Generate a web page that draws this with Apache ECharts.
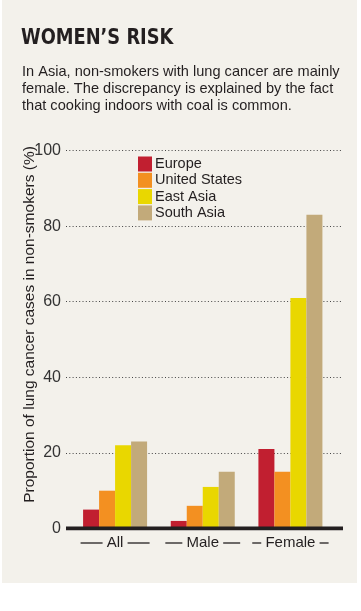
<!DOCTYPE html>
<html><head><meta charset="utf-8">
<script src="https://cdn.jsdelivr.net/npm/echarts@6/dist/echarts.min.js"></script>
<style>html,body{margin:0;padding:0;background:#fff}#c{width:361px;height:611px}</style>
</head><body><div id="c"></div>
<script>
const categories = ['All', 'Male', 'Female'];
const seriesNames = ['Europe', 'United States', 'East Asia', 'South Asia'];
const europe = [5, 2, 21];
const unitedStates = [10, 6, 15];
const eastAsia = [22, 11, 61];
const southAsia = [23, 15, 83];
const yTicks = [0, 20, 40, 60, 80, 100];
const title = 'WOMEN\u2019S RISK';
const subtitle = 'In Asia, non-smokers with lung cancer are mainly\nfemale. The discrepancy is explained by the fact\nthat cooking indoors with coal is common.';
const yName = 'Proportion of lung cancer cases in non-smokers (%)';

const colors = ['#c11f30', '#f39021', '#e9d700', '#c2aa7a'];
const ink = '#231f20';
const font = "'Liberation Sans', Arial, sans-serif";
const dashW = { All: 22, Male: 17, Female: 9 };
const values = [europe, unitedStates, eastAsia, southAsia];

const chart = echarts.init(document.getElementById('c'), null, { renderer: 'canvas' });
chart.setOption({
  backgroundColor: '#ffffff',
  animation: false,
  textStyle: { fontFamily: font },
  graphic: [
    { type: 'rect', z: -10, shape: { x: 2, y: 0, width: 355, height: 583 }, style: { fill: '#f3f1eb' } },
    { type: 'text', x: 21, y: 38, scaleX: 0.9, originX: 0, style: { text: title, fill: ink, font: "bold 22px 'DejaVu Sans Condensed', sans-serif", verticalAlign: 'middle' } },
    { type: 'text', x: 22, y: 63.2, scaleX: 0.972, originX: 0, style: { text: subtitle, fill: ink, fontSize: 15, fontFamily: font, lineHeight: 17, verticalAlign: 'top' } }
  ],
  legend: {
    orient: 'vertical', left: 138, top: 156.5, padding: 0,
    itemWidth: 14, itemHeight: 15, itemGap: 1.3, icon: 'rect',
    data: seriesNames,
    textStyle: { fontSize: 14.5, color: ink, padding: [0, 0, 0, -2], lineHeight: 15 }
  },
  grid: [
    { left: 66, right: 18, top: 150.5, bottom: 82.5 },
    { left: 71.25, right: 26.75, top: 150.5, bottom: 82.5 }
  ],
  xAxis: [
    { gridIndex: 0, type: 'value', min: 0, max: 1, show: true,
      axisLine: { show: false }, axisTick: { show: false }, axisLabel: { show: false }, splitLine: { show: false } },
    { gridIndex: 1, type: 'category', data: categories,
      axisLine: { show: false }, axisTick: { show: false },
      axisLabel: {
        interval: 0, margin: 7, fontSize: 15, color: ink,
        formatter: function (v) { const k = 'd' + dashW[v]; return '{' + k + '|} ' + v + ' {' + k + '|}'; },
        rich: {
          d22: { width: 22, height: 1.3, backgroundColor: ink },
          d17: { width: 17, height: 1.3, backgroundColor: ink },
          d9: { width: 9, height: 1.3, backgroundColor: ink }
        }
      }
    }
  ],
  yAxis: [
    { gridIndex: 0, type: 'value', min: yTicks[0], max: yTicks[yTicks.length - 1], interval: yTicks[1] - yTicks[0],
      name: yName, nameLocation: 'middle', nameGap: 28.5, nameRotate: 90, nameMoveOverlap: false,
      nameTextStyle: { fontSize: 15.5, color: ink, padding: [0, 0, 0, 30] },
      axisLine: { show: false }, axisTick: { show: false },
      axisLabel: { fontSize: 16, color: '#333', margin: 5 },
      splitLine: { show: true, lineStyle: { color: '#444', width: 1, type: [1, 2.3] } }
    },
    { gridIndex: 1, type: 'value', min: 0, max: 100, show: false, splitLine: { show: false } }
  ],
  series: [
    { type: 'line', xAxisIndex: 0, yAxisIndex: 0, data: [[0, 0], [1, 0]], symbol: 'none', silent: true,
      lineStyle: { color: ink, width: 4 }, z: 5, legendHoverLink: false }
  ].concat(values.map(function (arr, i) {
    return { name: seriesNames[i], type: 'bar', xAxisIndex: 1, yAxisIndex: 1, data: arr,
      barWidth: 16, barGap: '0%', itemStyle: { color: colors[i] }, z: 2 };
  }))
});
</script></body></html>
